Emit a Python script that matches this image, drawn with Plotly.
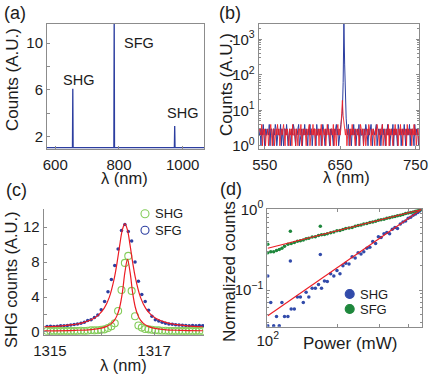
import numpy as np
import plotly.graph_objects as go

# ---- (a) broad spectrum ----
wl_a = [574, 654, 655, 656, 784, 785, 786, 974, 975, 976, 1067]
counts_a = [1.05, 1.05, 6.1, 1.05, 1.05, 12.5, 1.05, 1.05, 2.9, 1.05, 1.05]

# ---- (b) zoom on SHG, log counts ----
wl_b = np.arange(543, 756)
blue_b = [float(v) for v in """
2 3 1 3 2 4 2 1 3 2 3 2 2 4 1 3 3 2 1 3 2 4 3 1 2 3 2 2 4 1
3 2 1 3 3 2 4 2 1 2 3 1 2 3 2 4 3 2 1 3 2 3 4 1 2 2 3 1 3 2
4 2 3 2 1 3 2 4 2 3 1 2 3 3 2 1 4 2 3 2 2 3 1 2 4 3 2 1 3 2
3 4 2 1 3 2 3 2 1 3 2 3 4 2 3 1 2 3 4 6 9 60 3000 200 12 6 3 2 4 1
3 2 1 3 2 4 2 3 1 2 3 2 4 1 3 2 2 3 1 3 2 4 3 2 1 3 2 3 4 2
1 3 2 2 3 4 1 2 3 2 3 1 2 4 2 3 2 1 3 2 4 2 3 1 2 3 2 4 1 3
2 3 2 1 4 3 2 3 1 2 3 2 4 2 1 3 2 3 2 4 1 3 2 3 2 1 4 2 3 2
3 1 2
""".split()]
red_b = [float(v) for v in """
3 2 2 4 1 3 2 3 1 2 2 3 1 2 3 4 2 1 3 3 1 2 3 2 4 2 3 1 2 3
2 3 4 2 1 3 2 3 2 1 3 2 3 1 4 2 2 3 1 3 2 1 3 3 2 4 1 2 3 2
3 2 1 3 2 3 4 1 2 3 2 4 2 3 1 3 2 2 3 1 3 2 4 1 2 3 2 3 1 2
4 2 3 2 1 3 3 2 4 1 3 2 1 3 4 2 3 2 3 8 19 7 4 3 2 3 1 2 3 2
1 3 2 4 2 3 2 1 3 2 2 3 1 2 4 3 2 3 1 2 3 1 2 3 2 4 3 2 1 3
2 3 2 1 3 2 4 3 2 1 3 2 3 4 1 2 3 2 1 3 2 4 1 3 2 3 2 1 3 2
4 2 3 2 1 3 2 4 2 3 1 3 2 2 3 1 4 2 3 2 2 3 1 3 2 4 2 3 1 2
3 2 1
""".split()]

# ---- (c) resonance scan ----
wl_c = np.round(np.arange(1314.945, 1317.94, 0.065), 3)
sfg_c = [0.62, 0.66, 0.64, 0.66, 0.70, 0.70, 0.75, 0.80, 0.85, 0.92, 1.00, 1.10,
         1.30, 1.40, 1.65, 1.95, 2.55, 3.5, 4.6, 6.0, 7.6, 9.5, 11.6, 12.3,
         11.5, 10.4, 8.0, 5.8, 4.3, 3.5, 2.5, 1.8, 1.4, 1.25, 1.1, 1.0, 0.92,
         0.88, 0.82, 0.80, 0.78, 0.75, 0.72, 0.75, 0.72, 0.75, 0.72]
shg_c = [0.12, 0.1, 0.12, 0.1, 0.1, 0.12, 0.1, 0.12, 0.1, 0.12, 0.15, 0.12,
         0.15, 0.2, 0.18, 0.2, 0.25, 0.3, 0.45, 0.65, 1.0, 2.4, 4.8, 7.9,
         8.7, 4.7, 1.8, 0.75, 0.5, 0.35, 0.3, 0.25, 0.2, 0.18, 0.15, 0.15, 0.12,
         0.12, 0.1, 0.12, 0.1, 0.1, 0.12, 0.1, 0.1, 0.12, 0.1]
sfg_fit_center = 1316.44
sfg_fit_dx = [-1.55, -1.2, -1.0, -0.8, -0.6, -0.5, -0.4, -0.3, -0.2, -0.15, -0.1, -0.05, 0,
              0.05, 0.1, 0.15, 0.2, 0.3, 0.4, 0.5, 0.6, 0.8, 1.0, 1.2, 1.5]
sfg_fit = [0.60, 0.71, 0.84, 1.07, 1.55, 1.99, 2.70, 3.96, 6.25, 7.94, 9.90, 11.66, 12.40,
           11.66, 9.90, 7.94, 6.25, 3.96, 2.70, 1.99, 1.55, 1.07, 0.84, 0.71, 0.60]
shg_fit_center = 1316.49
shg_fit_dx = [-1.6, -1.0, -0.7, -0.5, -0.4, -0.3, -0.25, -0.2, -0.15, -0.1, -0.05, 0,
              0.05, 0.1, 0.15, 0.2, 0.25, 0.3, 0.4, 0.5, 0.7, 1.0, 1.45]
shg_fit = [0.13, 0.19, 0.28, 0.45, 0.64, 1.01, 1.35, 1.90, 2.83, 4.44, 6.81, 8.30,
           6.81, 4.44, 2.83, 1.90, 1.35, 1.01, 0.64, 0.45, 0.28, 0.19, 0.14]

# ---- (d) power dependence ----
power_d = [100, 103, 106, 109, 112, 115, 118, 122, 126, 130, 134, 138, 142, 146, 150,
           155, 160, 165, 170, 175, 180, 186, 192, 198, 204, 210, 216, 223, 230, 237,
           244, 251, 258, 266, 274, 282, 290, 298, 306, 315, 324, 333, 342, 351, 360,
           370, 380, 390, 400, 410, 420, 430, 440, 448, 455, 100, 125, 168]
shg_d = [0.036, 0.07, 0.036, 0.047, 0.036, 0.07, 0.047, 0.047, 0.058, 0.058, 0.082, 0.082,
         0.07, 0.094, 0.082, 0.105, 0.105, 0.117, 0.105, 0.13, 0.128, 0.16, 0.15, 0.175,
         0.16, 0.20, 0.215, 0.21, 0.26, 0.25, 0.29, 0.28, 0.30, 0.33, 0.34, 0.40, 0.38,
         0.46, 0.45, 0.50, 0.52, 0.50, 0.57, 0.60, 0.58, 0.66, 0.70, 0.72, 0.78, 0.80,
         0.85, 0.88, 0.92, 0.96, 1.0, 0.15, 0.229, 0.277]
sfg_d = [0.29, 0.30, 0.30, 0.31, 0.32, 0.33, 0.35, 0.37, 0.38, 0.39, 0.405, 0.41, 0.42,
         0.435, 0.44, 0.455, 0.46, 0.475, 0.485, 0.49, 0.50, 0.515, 0.525, 0.545, 0.55,
         0.565, 0.58, 0.59, 0.60, 0.62, 0.635, 0.645, 0.66, 0.67, 0.69, 0.70, 0.715,
         0.735, 0.745, 0.76, 0.78, 0.79, 0.81, 0.82, 0.835, 0.85, 0.87, 0.89, 0.905,
         0.92, 0.935, 0.95, 0.97, 0.985, 1.0, 0.37, 0.537, 0.62]
fit_power = [100, 455]
shg_fit_d = [0.048, 1.0]
sfg_fit_d = [0.33, 1.0]

BLUE = "rgb(44,62,160)"
RED = "rgb(236,28,36)"
LGREEN = "rgb(132,204,90)"
DGREEN = "rgb(30,135,60)"
FONT = "Liberation Sans, Arial, Helvetica, sans-serif"
INK = "#1c1c1c"
W, H = 436, 376


def X(p):
    return p / W


def Y(p):
    return 1 - p / H


fig = go.Figure()
fig.add_trace(go.Scatter(x=wl_a, y=counts_a, mode="lines", line=dict(color=BLUE, width=1.3),
                         xaxis="x", yaxis="y"))
fig.add_trace(go.Scatter(x=wl_b, y=blue_b, mode="lines", line=dict(color=BLUE, width=1),
                         xaxis="x2", yaxis="y2"))
fig.add_trace(go.Scatter(x=wl_b, y=red_b, mode="lines", line=dict(color="rgba(238,30,38,0.85)", width=1),
                         xaxis="x2", yaxis="y2"))
fig.add_trace(go.Scatter(x=wl_c, y=sfg_c, mode="markers", marker=dict(color=BLUE, size=3.5),
                         xaxis="x3", yaxis="y3"))
fig.add_trace(go.Scatter(x=wl_c, y=shg_c, mode="markers",
                         marker=dict(symbol="circle-open", color=LGREEN, size=7, line=dict(width=1.1)),
                         xaxis="x3", yaxis="y3"))
fig.add_trace(go.Scatter(x=[sfg_fit_center + d for d in sfg_fit_dx], y=sfg_fit, mode="lines",
                         line=dict(color=RED, width=1.2, shape="spline"), xaxis="x3", yaxis="y3"))
fig.add_trace(go.Scatter(x=[shg_fit_center + d for d in shg_fit_dx], y=shg_fit, mode="lines",
                         line=dict(color=RED, width=1.2, shape="spline"), xaxis="x3", yaxis="y3"))
fig.add_trace(go.Scatter(x=power_d, y=shg_d, mode="markers", marker=dict(color="rgb(50,75,170)", size=3.5),
                         xaxis="x4", yaxis="y4"))
fig.add_trace(go.Scatter(x=power_d, y=sfg_d, mode="markers", marker=dict(color=DGREEN, size=3.5),
                         xaxis="x4", yaxis="y4"))
fig.add_trace(go.Scatter(x=fit_power, y=shg_fit_d, mode="lines", line=dict(color=RED, width=1.1),
                         xaxis="x4", yaxis="y4"))
fig.add_trace(go.Scatter(x=fit_power, y=sfg_fit_d, mode="lines", line=dict(color=RED, width=1.1),
                         xaxis="x4", yaxis="y4"))

tickfont = dict(family=FONT, size=15, color=INK)
base = dict(showline=True, linecolor="#8c8c8c", linewidth=1, mirror=True, ticks="inside",
            ticklen=3, tickcolor="#8c8c8c", showgrid=False, zeroline=False, tickfont=tickfont,
            automargin=False)


def ax(**kw):
    d = dict(base)
    d.update(kw)
    return d


sup = lambda e: "10<sup>%s</sup>" % e

fig.update_layout(
    width=W, height=H, autosize=False,
    margin=dict(l=0, r=0, t=0, b=0, pad=0, autoexpand=False),
    paper_bgcolor="white", plot_bgcolor="white", showlegend=False,
    xaxis=ax(domain=[X(47), X(204)], range=[574, 1067], tickvals=[600, 800, 1000],
             anchor="y", ticklabelstandoff=2),
    yaxis=ax(domain=[Y(149), Y(24)], range=[0.93, 11.65], tickvals=[2, 4, 6, 8, 10],
             ticktext=["2", "", "6", "", "10"], anchor="x"),
    xaxis2=ax(domain=[X(258.7), X(419.3)], range=[542, 755], tickvals=[550, 650, 750],
              anchor="y2", ticklabelstandoff=2),
    yaxis2=ax(domain=[Y(149), Y(24)], type="log", range=[-0.09, 3.43],
              tickvals=[1, 10, 100, 1000], ticktext=[sup(0), sup(1), sup(2), sup(3)],
              anchor="x2", mirror="allticks",
              minor=dict(ticks="inside", ticklen=2, tickcolor="#8c8c8c",
                         tickvals=[m * 10 ** e for e in range(0, 4) for m in range(2, 10)])),
    xaxis3=ax(domain=[X(43.7), X(204)], range=[1314.88, 1317.96], tickvals=[1315, 1316, 1317],
              ticktext=["1315", "", "1317"], mirror=False, anchor="y3", ticklabelstandoff=2),
    yaxis3=ax(domain=[Y(334.7), Y(208.7)], range=[-0.31, 14.1], tickvals=[0, 2, 4, 6, 8, 10, 12],
              ticktext=["0", "", "4", "", "8", "", "12"], mirror=False, anchor="x3"),
    xaxis4=ax(domain=[X(267.3), X(421.7)], type="log", range=[1.998, 2.66],
              tickvals=[100, 200, 300, 400], ticktext=[sup(2), "", "", ""], anchor="y4",
              mirror="allticks"),
    yaxis4=ax(domain=[Y(326.7), Y(209.3)], type="log", range=[-1.455, 0.003],
              tickvals=[0.1, 1], ticktext=[sup("\u22121"), sup(0)], anchor="x4", mirror="allticks",
              minor=dict(ticks="inside", ticklen=2, tickcolor="#8c8c8c",
                         tickvals=[0.04, 0.05, 0.06, 0.07, 0.08, 0.09,
                                   0.2, 0.3, 0.4, 0.5, 0.6, 0.7, 0.8, 0.9])),
)


def note(text, x, y, size, angle=0, color=INK):
    fig.add_annotation(text=text, x=X(x), y=Y(y), xref="paper", yref="paper",
                       showarrow=False, textangle=angle, xanchor="center", yanchor="middle",
                       font=dict(family=FONT, size=size, color=color))


# panel letters
note("(a)", 15, 13, 18)
note("(b)", 230, 13, 18)
note("(c)", 16, 190, 18)
note("(d)", 231, 189, 18)
# axis titles
note("Counts (A.U.)", 13, 80, 17, -90)
note("\u03bb (nm)", 124, 178, 16.5)
note("Counts (A.U.)", 226, 85, 17, -90)
note("\u03bb (nm)", 346, 177, 16.5)
note("SHG counts (A.U.)", 11, 280, 16.5, -90)
note("\u03bb (nm)", 123.5, 365, 16.5)
note("Normalized counts", 229, 272, 17, -90)
note("Power (mW)", 350, 343, 17)
# peak labels in (a)
note("SHG", 78, 80, 14.5)
note("SFG", 139, 43, 14.5)
note("SHG", 182, 113, 14.5)


def key(cx, cy, label, color, size, filled):
    fig.add_shape(type="circle", xref="paper", yref="paper", xsizemode="pixel", ysizemode="pixel",
                  xanchor=X(cx), yanchor=Y(cy), x0=-size / 2, x1=size / 2, y0=-size / 2, y1=size / 2,
                  line=dict(color=color, width=1.1), fillcolor=color if filled else "rgba(0,0,0,0)")
    fig.add_annotation(text=label, x=X(cx + size / 2 + 4), y=Y(cy), xref="paper", yref="paper",
                       showarrow=False, xanchor="left", yanchor="middle",
                       font=dict(family=FONT, size=13, color=INK))


key(145, 213.7, "SHG", LGREEN, 8, False)
key(145, 230.3, "SFG", BLUE, 8, False)
key(349.7, 294, "SHG", "rgb(50,75,170)", 9, True)
key(349.7, 309, "SFG", DGREEN, 9, True)

fig.write_html("out.html", config={"displayModeBar": False},
               post_script="document.body.style.margin='0';")
